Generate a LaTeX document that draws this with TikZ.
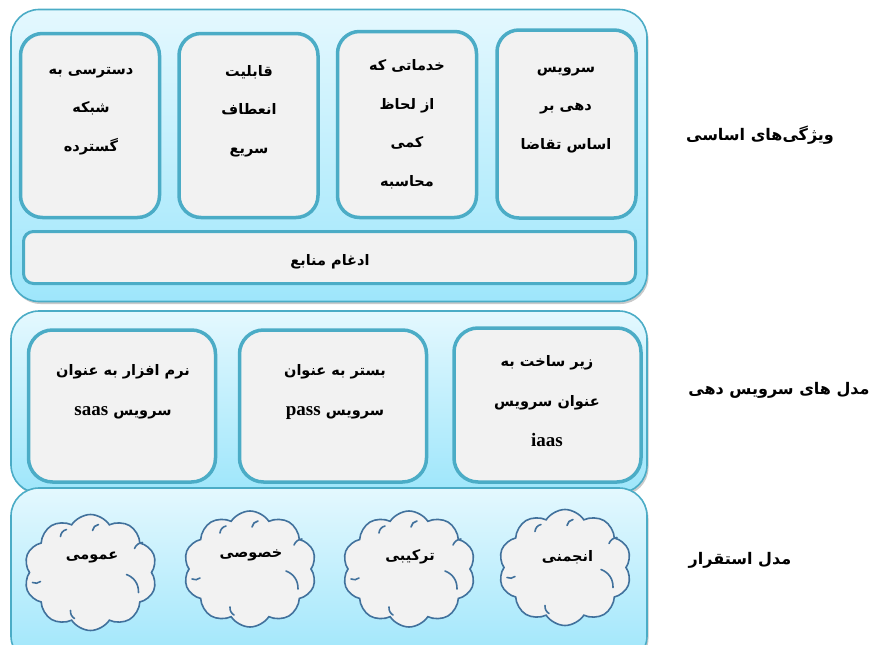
\documentclass[tikz,border=0pt]{standalone}
\usepackage{fontspec}
\usetikzlibrary{shapes.symbols,shadows}
\TeXXeTstate=1
\newfontfamily\arabicfont[Script=Arabic]{DejaVu Sans}
\newfontfamily\latinfont{Liberation Serif}
\newcommand\faline[1]{\beginR #1\endR}
\newcommand\lat[1]{{\latinfont\bfseries\fontsize{19}{20}\selectfont #1}}
\definecolor{panelborder}{HTML}{4BACC6}
\definecolor{paneltop}{HTML}{E4F8FE}
\definecolor{panelbottom}{HTML}{9EE6FB}
\definecolor{boxfill}{HTML}{F2F2F2}
\definecolor{boxborder}{HTML}{4BACC6}
\definecolor{cloudborder}{HTML}{41719C}
\begin{document}
\begin{tikzpicture}[x=1pt,y=-1pt,
  panel/.style={draw=panelborder, line width=1.6pt, rounded corners=28pt,
    top color=paneltop, bottom color=panelbottom,
    drop shadow={shadow xshift=1.5pt,shadow yshift=-2.5pt,opacity=0.35,fill=black!60},
    minimum width=636pt, inner sep=0pt},
  featbox/.style={draw=boxborder, line width=3.5pt, fill=boxfill, rounded corners=22pt,
    minimum width=139pt, inner sep=0pt},
  modelbox/.style={draw=boxborder, line width=3.5pt, fill=boxfill, rounded corners=24pt,
    minimum width=187pt, minimum height=152pt, inner sep=0pt},
  barbox/.style={draw=boxborder, line width=3pt, fill=boxfill, rounded corners=10pt,
    minimum width=612pt, minimum height=52pt, inner sep=0pt},
  cloudbox/.style={cloud, cloud puffs=10, cloud puff arc=115, draw=cloudborder, line width=1.6pt,
    fill=boxfill, minimum width=133pt, minimum height=116pt, inner sep=0pt},
  cloudline/.style={draw=cloudborder, line width=1.6pt, line cap=round},
  txt/.style={font=\arabicfont\bfseries\fontsize{14.5}{38.5}\selectfont, align=center, inner sep=0pt},
  mtxt/.style={font=\arabicfont\bfseries\fontsize{14.5}{40}\selectfont, align=center, inner sep=0pt},
  lbl/.style={font=\arabicfont\bfseries\fontsize{16}{18}\selectfont, inner sep=0pt},
  pics/cloudmarks/.style={code={
    \draw[cloudline] (-30,-36) to[bend left=35] (-24,-43);
    \draw[cloudline] (2,-42) to[bend left=35] (8,-48);
    \draw[cloudline] (44,-24) to[bend left=30] (52,-30);
    \draw[cloudline] (36,2) to[bend left=35] (48,20);
    \draw[cloudline] (-20,38) to[bend right=30] (-16,46);
    \draw[cloudline] (-58,10) to[bend right=30] (-50,9);
  }}
]
\useasboundingbox (0,0) rectangle (873,645);
% panels
\node[panel, minimum height=292pt] (p1) at (329,155.5) {};
\node[panel, minimum height=182pt] (p2) at (329,402) {};
\node[panel, minimum height=176pt] (p3) at (329,576) {};
% feature boxes
\node[featbox, minimum height=184pt] (f1) at (90,125.5) {};
\node[featbox, minimum height=184pt] (f2) at (248.5,125.5) {};
\node[featbox, minimum height=186pt] (f3) at (407,124.5) {};
\node[featbox, minimum height=188pt] (f4) at (566.5,124) {};
\node[barbox] (bar) at (329.5,257.5) {};
\node[txt] (tf1) at (91,111) {\faline{دسترسی به}\\\faline{شبکه}\\\faline{گسترده}};
\node[txt] (tf2) at (249,111) {\faline{قابلیت}\\\faline{انعطاف}\\\faline{سریع}};
\node[txt] (tf3) at (407,124) {\faline{خدماتی که}\\\faline{از لحاظ}\\\faline{کمی}\\\faline{محاسبه}};
\node[txt] (tf4) at (566,110) {\faline{سرویس}\\\faline{دهی بر}\\\faline{اساس تقاضا}};
\node[txt] (tbar) at (330,262) {\faline{ادغام منابع}};
% model boxes
\node[modelbox] (m1) at (122,406) {};
\node[modelbox] (m2) at (333,406) {};
\node[modelbox, minimum height=154pt] (m3) at (547.5,405) {};
\node[mtxt] (tm1) at (123,392) {\faline{نرم افزار به عنوان}\\\faline{سرویس \beginL\lat{saas}\endL}};
\node[mtxt] (tm2) at (335,392) {\faline{بستر به عنوان}\\\faline{سرویس \beginL\lat{pass}\endL}};
\node[mtxt] (tm3) at (547,401) {\faline{زیر ساخت به}\\\faline{عنوان سرویس}\\\lat{iaas}};
% clouds
\node[cloudbox] (c1) at (90.5,572.5) {};
\node[cloudbox] (c2) at (250,569) {};
\node[cloudbox] (c3) at (409,569) {};
\node[cloudbox] (c4) at (565,567.5) {};
\pic at (c1.center) {cloudmarks};
\pic at (c2.center) {cloudmarks};
\pic at (c3.center) {cloudmarks};
\pic at (c4.center) {cloudmarks};
\node[txt] (tc1) at (92,557) {\faline{عمومی}};
\node[txt] (tc2) at (251,555) {\faline{خصوصی}};
\node[txt] (tc3) at (410,557) {\faline{ترکیبی}};
\node[txt] (tc4) at (567.5,557) {\faline{انجمنی}};
% side labels
\node[lbl] (l1) at (760,135) {\faline{ویژگی‌های اساسی}};
\node[lbl] (l2) at (779,390) {\faline{مدل های سرویس دهی}};
\node[lbl] (l3) at (740,560) {\faline{مدل استقرار}};
\end{tikzpicture}
\end{document}
